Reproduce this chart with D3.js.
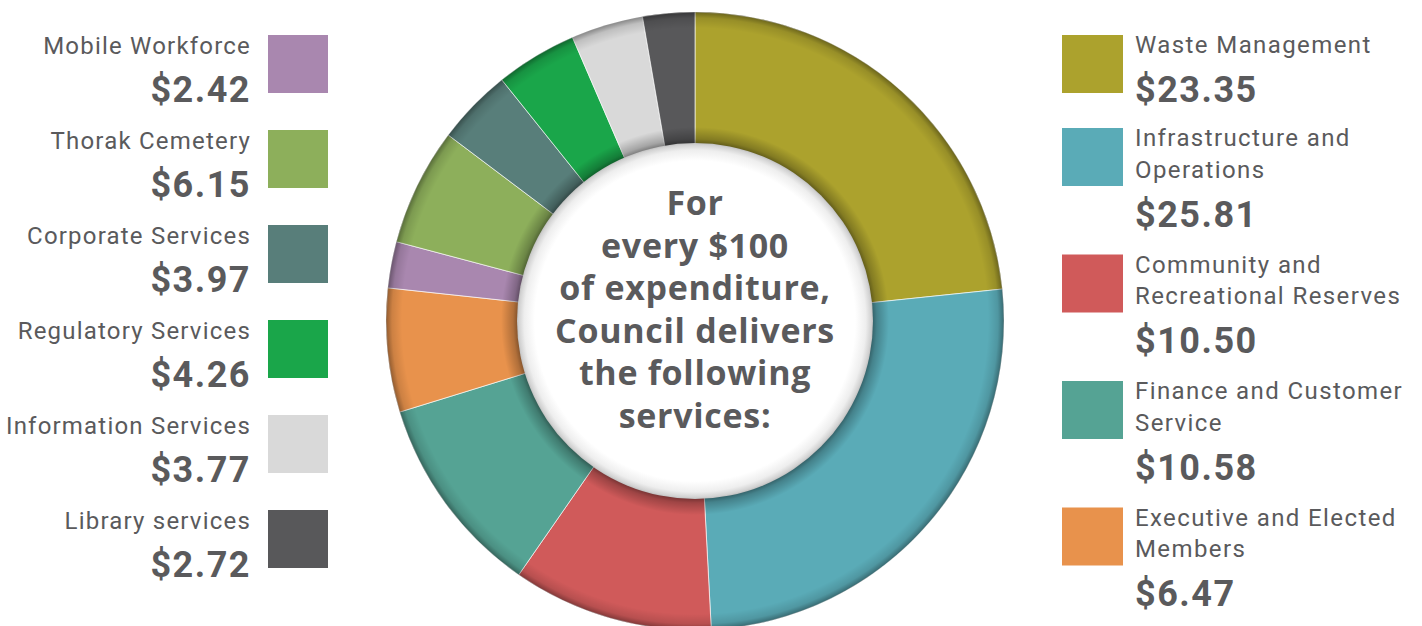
<!DOCTYPE html>
<html>
<head>
<meta charset="utf-8">
<script src="https://cdn.jsdelivr.net/npm/d3@7"></script>
<style>
  html, body { margin: 0; padding: 0; background: #ffffff; }
  svg { display: block; }
  text { font-family: Roboto, "Open Sans", sans-serif; fill: #5a5a5c; }
</style>
</head>
<body>
<svg id="chart" width="1422" height="626"></svg>
<script>
// Council expenditure per $100, by service area (clockwise from 12 o'clock)
const categories = [
  "Waste Management",
  "Infrastructure and Operations",
  "Community and Recreational Reserves",
  "Finance and Customer Service",
  "Executive and Elected Members",
  "Mobile Workforce",
  "Thorak Cemetery",
  "Corporate Services",
  "Regulatory Services",
  "Information Services",
  "Library services"
];
const values = [23.35, 25.81, 10.50, 10.58, 6.47, 2.42, 6.15, 3.97, 4.26, 3.77, 2.72];
const colors = [
  "#aca22d", "#5aabb7", "#d05a5a", "#55a394", "#e8924c", "#a987af",
  "#8daf5b", "#587e7a", "#1aa64a", "#d9d9d9", "#58585a"
];
// Legend wording as it wraps on the page
const legendLines = [
  ["Waste Management"],
  ["Infrastructure and", "Operations"],
  ["Community and", "Recreational Reserves"],
  ["Finance and Customer", "Service"],
  ["Executive and Elected", "Members"],
  ["Mobile Workforce"],
  ["Thorak Cemetery"],
  ["Corporate Services"],
  ["Regulatory Services"],
  ["Information Services"],
  ["Library services"]
];
const rightItems = [0, 1, 2, 3, 4];
const leftItems = [5, 6, 7, 8, 9, 10];
const centerText = ["For", "every $100", "of expenditure,", "Council delivers", "the following", "services:"];

const svg = d3.select("#chart");
const defs = svg.append("defs");
const fmt = v => "$" + d3.format(".2f")(v);

// ---- donut ----
const cx = 695, cy = 321, outerR = 309, innerR = 178;
const pie = d3.pie().sort(null).value(d => d).startAngle(0).endAngle(2 * Math.PI);
const arc = d3.arc().innerRadius(innerR - 2).outerRadius(outerR);
const g = svg.append("g").attr("transform", `translate(${cx},${cy})`);

g.selectAll("path.slice")
  .data(pie(values))
  .join("path")
  .attr("class", "slice")
  .attr("d", arc)
  .attr("fill", (d, i) => colors[i])
  .attr("stroke", "#ffffff")
  .attr("stroke-width", 0.8)
  .attr("stroke-opacity", 0.8);

// rim shading: darkens the outer edge and the area next to the centre disc
const ringShade = defs.append("radialGradient")
  .attr("id", "ringShade")
  .attr("gradientUnits", "userSpaceOnUse")
  .attr("cx", 0).attr("cy", 0).attr("r", outerR);
[
  [0, 0.0], [(innerR - 1) / outerR, 0.45], [(innerR + 4) / outerR, 0.24], [(innerR + 16) / outerR, 0.0],
  [(outerR - 16) / outerR, 0.0], [(outerR - 6) / outerR, 0.12], [1, 0.38]
].forEach(([o, a]) => ringShade.append("stop").attr("offset", o).attr("stop-color", "#000").attr("stop-opacity", a));

g.append("circle").attr("r", outerR).attr("fill", "url(#ringShade)");

// centre disc with a soft inner edge
const discShade = defs.append("radialGradient")
  .attr("id", "discShade")
  .attr("gradientUnits", "userSpaceOnUse")
  .attr("cx", 0).attr("cy", 0).attr("r", innerR);
[
  [0, "#ffffff"], [0.9, "#ffffff"], [0.96, "#eeeeee"], [0.99, "#d2d2d2"], [1, "#c0c0c0"]
].forEach(([o, c]) => discShade.append("stop").attr("offset", o).attr("stop-color", c));

g.append("circle").attr("r", innerR).attr("fill", "url(#discShade)");

// centre caption
const lineGap = 42.6;
g.append("text")
  .attr("text-anchor", "middle")
  .style("font-family", "'Open Sans', Roboto, sans-serif")
  .style("font-weight", 700)
  .style("font-size", "34px")
  .style("letter-spacing", "0.7px")
  .selectAll("tspan")
  .data(centerText)
  .join("tspan")
  .attr("x", 0)
  .attr("y", (d, i) => 215 - cy + i * lineGap)
  .text(d => d);

// ---- legends ----
const labelSize = 24, valueSize = 36;

function itemHeight(i) { return 93 + 33.5 * (legendLines[i].length - 1); }

// right column: swatch then text
let yTop = 35;
rightItems.forEach(i => {
  const item = svg.append("g").attr("transform", `translate(1062,${yTop})`);
  item.append("rect").attr("width", 61).attr("height", 58).attr("fill", colors[i]);
  const lines = legendLines[i];
  lines.forEach((t, k) => {
    item.append("text")
      .attr("x", 73).attr("y", 18 + k * 31.5)
      .style("font-size", labelSize + "px")
      .style("letter-spacing", "1.4px")
      .text(t);
  });
  item.append("text")
    .attr("x", 73).attr("y", 18 + (lines.length - 1) * 31.5 + 49)
    .style("font-size", valueSize + "px")
    .style("font-weight", 700)
    .style("letter-spacing", "1.5px")
    .text(fmt(values[i]));
  yTop += itemHeight(i);
});

// left column: text right-aligned, then swatch
const yLeft = d3.scaleLinear().domain([0, leftItems.length - 1]).range([35, 510]);
leftItems.forEach((i, k) => {
  const item = svg.append("g").attr("transform", `translate(268,${yLeft(k)})`);
  item.append("rect").attr("width", 60).attr("height", 58).attr("fill", colors[i]);
  item.append("text")
    .attr("x", -17).attr("y", 19)
    .attr("text-anchor", "end")
    .style("font-size", labelSize + "px")
    .style("letter-spacing", "1.2px")
    .text(legendLines[i][0]);
  item.append("text")
    .attr("x", -17).attr("y", 67)
    .attr("text-anchor", "end")
    .style("font-size", valueSize + "px")
    .style("font-weight", 700)
    .style("letter-spacing", "1.5px")
    .text(fmt(values[i]));
});
</script>
</body>
</html>
